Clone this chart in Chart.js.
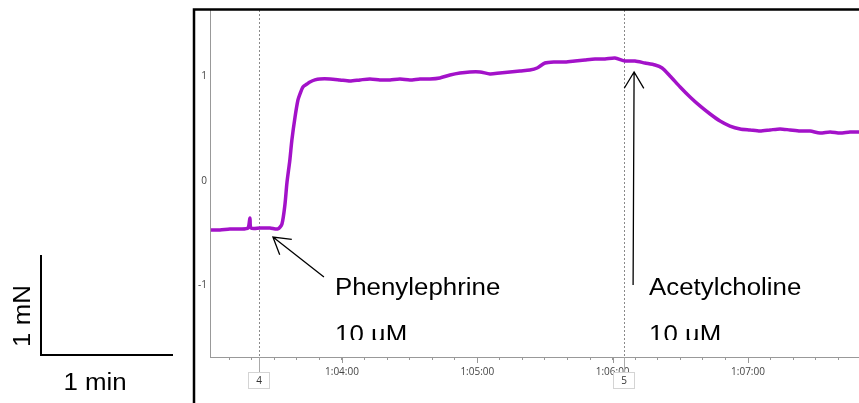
<!DOCTYPE html>
<html>
<head>
<meta charset="utf-8">
<script src="https://cdn.jsdelivr.net/npm/chart.js@4/dist/chart.umd.min.js"></script>
<style>
html, body { margin: 0; padding: 0; background: #fff; overflow: hidden; }
canvas { display: block; }
</style>
</head>
<body>
<canvas id="trace" width="859" height="403"></canvas>
<script>
// time in seconds (1:04:00 = 3840 s), force in mN
const tempo = [3781.9, 3785.9, 3790.3, 3794.8, 3798.3, 3799.2, 3799.7, 3803.6, 3808.1, 3811.6,
  3813.4, 3814.7, 3815.6, 3816.9, 3817.8, 3819.2, 3820.5, 3821.4, 3822.7, 3824.5,
  3825.8, 3828.0, 3830.2, 3834.7, 3839.1, 3843.5, 3848.0, 3852.4, 3856.8, 3861.3,
  3865.7, 3870.1, 3874.6, 3879.0, 3883.4, 3887.9, 3892.3, 3896.7, 3901.2, 3905.6,
  3910.0, 3914.5, 3918.9, 3923.3, 3926.5, 3930.0, 3934.4, 3938.9, 3943.3, 3947.7,
  3952.2, 3956.6, 3961.0, 3965.5, 3969.9, 3974.3, 3978.8, 3981.9, 3985.4, 3989.9,
  3994.3, 3998.7, 4003.2, 4007.6, 4012.0, 4016.5, 4020.9, 4025.3, 4029.8, 4034.2,
  4038.6, 4043.1, 4047.5, 4051.9, 4056.4, 4060.8, 4065.2, 4069.2];
const forca = [-0.469, -0.469, -0.459, -0.459, -0.450, -0.354, -0.450, -0.450, -0.450, -0.459,
  -0.411, -0.230, -0.019, 0.201, 0.392, 0.612, 0.775, 0.833, 0.900, 0.928,
  0.947, 0.967, 0.976, 0.976, 0.967, 0.957, 0.967, 0.976, 0.967, 0.967,
  0.976, 0.967, 0.976, 0.976, 0.986, 1.014, 1.033, 1.043, 1.043, 1.024,
  1.033, 1.043, 1.053, 1.062, 1.081, 1.129, 1.139, 1.139, 1.148, 1.158,
  1.167, 1.167, 1.177, 1.148, 1.148, 1.129, 1.110, 1.081, 1.005, 0.900,
  0.804, 0.718, 0.641, 0.574, 0.526, 0.498, 0.488, 0.478, 0.488, 0.498,
  0.488, 0.478, 0.478, 0.459, 0.469, 0.459, 0.469, 0.469];
const yTicks = [-1, 0, 1];
const marcadores = [3803, 3965];
const marcadorRotulos = ['4', '5'];
const drogas = ['Phenylephrine', 'Acetylcholine'];
const doses = ['10 µM', '10 µM'];
const drogaTempo = [3809.4, 3969.5];
const drogaForca = [-0.536, 1.043];

function formataTempo(v) {
  const h = Math.floor(v / 3600);
  const m = Math.floor((v % 3600) / 60);
  const s = Math.round(v % 60);
  return h + ':' + String(m).padStart(2, '0') + ':' + String(s).padStart(2, '0');
}

function seta(ctx, tip, tail) {
  const ang = Math.atan2(tail.y - tip.y, tail.x - tip.x);
  const len = 19, abre = 31 * Math.PI / 180;
  ctx.beginPath();
  ctx.moveTo(tail.x, tail.y);
  ctx.lineTo(tip.x, tip.y);
  ctx.moveTo(tip.x + len * Math.cos(ang + abre), tip.y + len * Math.sin(ang + abre));
  ctx.lineTo(tip.x, tip.y);
  ctx.lineTo(tip.x + len * Math.cos(ang - abre), tip.y + len * Math.sin(ang - abre));
  ctx.stroke();
}

function texto(ctx, s, x, y, align) {
  ctx.save();
  ctx.translate(x, y);
  ctx.scale(1.1, 1);
  ctx.textAlign = align || 'left';
  ctx.fillText(s, 0, 0);
  ctx.restore();
}

const extras = {
  id: 'extras',
  beforeDatasetsDraw(chart) {
    const { ctx, chartArea, scales } = chart;
    ctx.save();
    ctx.strokeStyle = '#8a8a8a';
    ctx.lineWidth = 1;
    ctx.setLineDash([2, 2]);
    marcadores.forEach(t => {
      const x = Math.round(scales.x.getPixelForValue(t)) + 0.5;
      ctx.beginPath();
      ctx.moveTo(x, chartArea.top);
      ctx.lineTo(x, chartArea.bottom);
      ctx.stroke();
    });
    ctx.restore();
  },
  afterDraw(chart) {
    const { ctx, chartArea, scales } = chart;
    ctx.save();

    // major ticks a bit longer
    ctx.strokeStyle = '#999';
    ctx.lineWidth = 1;
    scales.x.ticks.forEach(t => {
      if (t.value % 60 !== 0) return;
      const x = Math.round(scales.x.getPixelForValue(t.value)) + 0.5;
      ctx.beginPath();
      ctx.moveTo(x, chartArea.bottom);
      ctx.lineTo(x, chartArea.bottom + 6);
      ctx.stroke();
    });

    // event markers below axis
    ctx.font = '10px "Open Sans"';
    ctx.textAlign = 'center';
    ctx.textBaseline = 'middle';
    marcadores.forEach((t, i) => {
      const x = Math.round(scales.x.getPixelForValue(t)) + 0.5;
      ctx.strokeStyle = '#aaa';
      ctx.beginPath();
      ctx.moveTo(x, chartArea.bottom);
      ctx.lineTo(x, 373);
      ctx.stroke();
      ctx.fillStyle = '#fff';
      ctx.fillRect(x - 11, 372.5, 21, 16);
      ctx.strokeStyle = '#d4d4d4';
      ctx.strokeRect(x - 11, 372.5, 21, 16);
      ctx.fillStyle = '#333';
      ctx.fillText(marcadorRotulos[i], x - 0.5, 381);
    });

    // outer frame
    ctx.strokeStyle = '#000';
    ctx.lineWidth = 2.5;
    ctx.beginPath();
    ctx.moveTo(194, 403);
    ctx.lineTo(194, 9.5);
    ctx.lineTo(859, 9.5);
    ctx.stroke();

    // drug annotations
    ctx.lineWidth = 1.3;
    ctx.strokeStyle = '#000';
    const p1 = { x: scales.x.getPixelForValue(drogaTempo[0]), y: scales.y.getPixelForValue(drogaForca[0]) };
    seta(ctx, p1, { x: p1.x + 51, y: p1.y + 40 });
    const p2 = { x: scales.x.getPixelForValue(drogaTempo[1]), y: scales.y.getPixelForValue(drogaForca[1]) };
    seta(ctx, p2, { x: p2.x - 1, y: 285 });

    ctx.fillStyle = '#000';
    ctx.font = '23.5px "Liberation Sans", Arial, sans-serif';
    ctx.textBaseline = 'alphabetic';
    const tx = [335, 649];
    drogas.forEach((d, i) => {
      texto(ctx, d, tx[i], 295);
      ctx.save();
      ctx.beginPath();
      ctx.rect(0, 0, 859, 340);
      ctx.clip();
      texto(ctx, doses[i], tx[i], 342);
      ctx.restore();
    });

    // scale bar
    ctx.lineWidth = 2;
    ctx.beginPath();
    ctx.moveTo(41, 255);
    ctx.lineTo(41, 355);
    ctx.lineTo(173, 355);
    ctx.stroke();
    texto(ctx, '1 min', 95, 390, 'center');
    ctx.save();
    ctx.translate(30, 316);
    ctx.rotate(-Math.PI / 2);
    texto(ctx, '1 mN', 0, 0, 'center');
    ctx.restore();

    ctx.restore();
  }
};

const ctx = document.getElementById('trace').getContext('2d');

new Chart(ctx, {
  type: 'line',
  data: {
    datasets: [{
      data: tempo.map((t, i) => ({ x: t, y: forca[i] })),
      borderColor: '#a312c9',
      borderWidth: 3.5,
      pointRadius: 0,
      tension: 0.25,
      fill: false
    }]
  },
  options: {
    responsive: false,
    animation: false,
    layout: { padding: { left: 194, top: 10, right: 0, bottom: 0 } },
    plugins: {
      legend: { display: false },
      tooltip: { enabled: false }
    },
    scales: {
      x: {
        type: 'linear',
        min: 3781.5,
        max: 4069.2,
        afterBuildTicks: s => {
          const ticks = [];
          for (let v = Math.ceil(s.min / 10) * 10; v <= s.max; v += 10) ticks.push({ value: v });
          s.ticks = ticks;
        },
        afterFit: s => { s.height = 46; },
        ticks: {
          autoSkip: false,
          maxRotation: 0,
          padding: 6,
          color: '#444',
          font: { family: 'Open Sans', size: 10 },
          callback: v => (v % 60 === 0 ? formataTempo(v) : '')
        },
        grid: { drawOnChartArea: false, tickLength: 3, color: '#999' },
        border: { color: '#999' }
      },
      y: {
        min: -1.684,
        max: 1.636,
        afterBuildTicks: s => { s.ticks = yTicks.map(v => ({ value: v })); },
        afterFit: s => { s.width = 16; },
        ticks: {
          padding: 3,
          color: '#444',
          font: { family: 'Open Sans', size: 10 }
        },
        grid: { drawOnChartArea: false, drawTicks: false },
        border: { color: '#999' }
      }
    }
  },
  plugins: [extras]
});
</script>
</body>
</html>
